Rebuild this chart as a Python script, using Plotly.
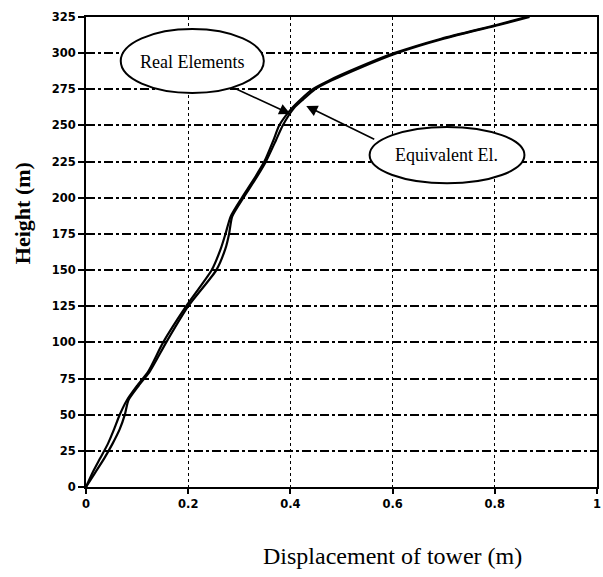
import plotly.graph_objects as go

# Data
heights = [0, 10, 20, 30, 40, 50, 60, 70, 80, 100, 125, 150, 165, 175, 187,
           200, 212, 225, 240, 250, 262, 268, 275, 281, 290, 300, 310, 319.5, 325]
real_elements = [0, 0.013, 0.028, 0.043, 0.055, 0.066, 0.080, 0.100, 0.122, 0.151,
                 0.196, 0.246, 0.264, 0.273, 0.283, 0.305, 0.327, 0.349, 0.367,
                 0.378, 0.403, 0.420, 0.443, 0.475, 0.532, 0.603, 0.695, 0.803, 0.862]
equivalent_el = [0, 0.018, 0.036, 0.052, 0.066, 0.076, 0.083, 0.103, 0.125, 0.157,
                 0.200, 0.255, 0.273, 0.280, 0.286, 0.308, 0.330, 0.352, 0.372,
                 0.385, 0.407, 0.425, 0.448, 0.480, 0.537, 0.608, 0.700, 0.808, 0.868]

x_ticks = [0, 0.2, 0.4, 0.6, 0.8, 1]
x_tick_labels = ["0", "0.2", "0.4", "0.6", "0.8", "1"]
y_ticks = list(range(0, 326, 25))

fig = go.Figure()
fig.add_trace(go.Scatter(x=real_elements, y=heights, mode="lines", name="Real Elements",
                         line=dict(color="black", width=2.2, shape="spline", smoothing=0.6)))
fig.add_trace(go.Scatter(x=equivalent_el, y=heights, mode="lines", name="Equivalent El.",
                         line=dict(color="black", width=2.2, shape="spline", smoothing=0.6)))

tickfont = dict(family="DejaVu Sans", size=11.5, color="black", weight="bold")

fig.update_layout(
    width=603, height=577,
    margin=dict(l=86, r=6, t=17, b=90, autoexpand=False),
    paper_bgcolor="white", plot_bgcolor="white",
    showlegend=False,
    xaxis=dict(range=[0, 1], tickvals=x_ticks, ticktext=x_tick_labels, automargin=False,
               showgrid=True, gridcolor="black", gridwidth=1.3, griddash="dot",
               showline=True, linecolor="black", linewidth=2, mirror=True,
               ticks="outside", ticklen=5, tickcolor="black", tickwidth=1.5,
               tickfont=tickfont, zeroline=False),
    yaxis=dict(range=[0, 325], tickvals=y_ticks, automargin=False,
               showgrid=True, gridcolor="black", gridwidth=1.5, griddash="dashdot",
               showline=True, linecolor="black", linewidth=2, mirror=True,
               ticks="outside", ticklen=6, tickcolor="black", tickwidth=1.5,
               tickfont=tickfont, zeroline=False),
)

# Ellipse callouts
fig.add_shape(type="circle", xref="x", yref="y", x0=0.068, x1=0.348, y0=272.5, y1=316.7,
              line=dict(color="black", width=2), fillcolor="white", layer="above")
fig.add_shape(type="circle", xref="x", yref="y", x0=0.555, x1=0.858, y0=210, y1=249,
              line=dict(color="black", width=2), fillcolor="white", layer="above")

serif = "Liberation Serif"
fig.add_annotation(x=0.208, y=294, xref="x", yref="y", text="Real Elements", showarrow=False,
                   font=dict(family=serif, size=18, color="black"))
fig.add_annotation(x=0.705, y=229.5, xref="x", yref="y", text="Equivalent El.", showarrow=False,
                   font=dict(family=serif, size=18, color="black"))

# Arrows
fig.add_annotation(x=0.400, y=258, ax=0.289, ay=276, xref="x", yref="y", axref="x", ayref="y",
                   text="", showarrow=True, arrowhead=2, arrowsize=1.4, arrowwidth=1.6,
                   arrowcolor="black")
fig.add_annotation(x=0.431, y=263.5, ax=0.567, ay=240, xref="x", yref="y", axref="x", ayref="y",
                   text="", showarrow=True, arrowhead=2, arrowsize=1.4, arrowwidth=1.6,
                   arrowcolor="black")

# Axis titles
fig.add_annotation(x=-0.123, y=0.583, xref="paper", yref="paper", text="<b>Height (m)</b>",
                   textangle=-90, showarrow=False, xanchor="center", yanchor="middle",
                   font=dict(family=serif, size=22, color="black"))
fig.add_annotation(x=0.6, y=-0.147, xref="paper", yref="paper", text="Displacement of tower (m)",
                   showarrow=False, xanchor="center", yanchor="middle",
                   font=dict(family=serif, size=24, color="black"))

fig.write_html("out.html", config={"displayModeBar": False},
               post_script="document.body.style.margin='0';document.body.style.padding='0';")
